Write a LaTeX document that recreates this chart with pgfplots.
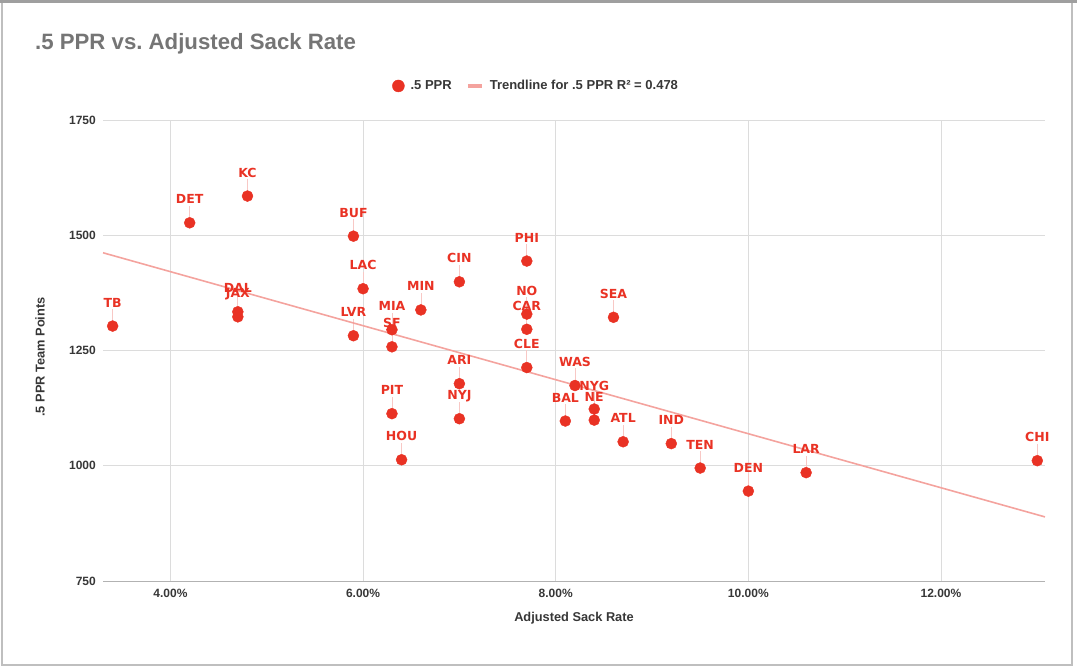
\documentclass[border=0pt]{standalone}
\usepackage{fontspec}
\setmainfont{Liberation Sans}
\newfontfamily\labfont{DejaVu Sans}
\usepackage{pgfplots}
\pgfplotsset{compat=1.18}
\usepackage{pgfplotstable}

\definecolor{dotred}{RGB}{233,50,36}
\definecolor{trendpink}{RGB}{244,163,158}
\definecolor{gridgray}{RGB}{220,220,220}
\definecolor{titlegray}{RGB}{117,117,117}
\definecolor{textgray}{RGB}{55,55,55}

% adjusted sack rate (%), .5 PPR team points
\pgfplotstableread{
x     y     team
3.4   1303  TB
4.2   1527  DET
4.8   1585  KC
4.7   1334  DAL
4.7   1323  JAX
5.9   1498  BUF
6.0   1384  LAC
5.9   1282  LVR
6.3   1295  MIA
6.3   1258  SF
6.6   1338  MIN
7.0   1399  CIN
7.7   1444  PHI
7.7   1329  NO
7.7   1296  CAR
8.6   1322  SEA
7.7   1213  CLE
7.0   1178  ARI
7.0   1102  NYJ
6.3   1113  PIT
6.4   1013  HOU
8.2   1174  WAS
8.4   1123  NYG
8.1   1097  BAL
8.4   1099  NE
8.7   1052  ATL
9.2   1048  IND
9.5   995   TEN
10.0  945   DEN
10.6  985   LAR
13.0  1011  CHI
}\sacks

\begin{document}
\begin{tikzpicture}[x=1pt,y=1pt]
\useasboundingbox (0,0) rectangle (1077,666);
\draw[gray!50, line width=1.2pt] (2,1) rectangle (1072,664);
\draw[gray!75, line width=3pt] (0,664.5) -- (1077,664.5);
\node[anchor=west, inner sep=0pt, text=titlegray, font=\fontsize{22.2}{25}\selectfont\bfseries] at (35,622) {.5 PPR vs.\ Adjusted Sack Rate};

\begin{axis}[
  at={(103pt,85pt)}, anchor=south west,
  scale only axis, width=942pt, height=461pt,
  xmin=3.3, xmax=13.08, ymin=750, ymax=1750,
  xtick={4,6,8,10,12},
  xticklabels={4.00\%,6.00\%,8.00\%,10.00\%,12.00\%},
  ytick={750,1000,1250,1500,1750},
  /pgf/number format/1000 sep={},
  /pgf/number format/assume math mode=true,
  grid=major,
  major grid style={gridgray, line width=0.8pt},
  axis line style={draw=none},
  major tick length=0pt,
  tick label style={font=\fontsize{12}{14}\selectfont\bfseries, text=textgray},
  yticklabel style={inner sep=0pt, xshift=-7pt},
  xticklabel style={inner sep=0pt, yshift=-8pt},
  xlabel={Adjusted Sack Rate},
  ylabel={.5 PPR Team Points},
  label style={font=\fontsize{12.8}{15}\selectfont\bfseries, text=textgray},
  xlabel style={at={(axis description cs:0.5,-0.0803)}, anchor=center},
  ylabel style={at={(axis description cs:-0.0669,0.486)}, anchor=center},
  legend style={at={(axis description cs:0.3068,1.0738)}, anchor=west, draw=none,
    fill=none, inner sep=0pt, legend columns=2,
    font=\fontsize{13}{15}\selectfont\bfseries, text=textgray,
    /tikz/every odd column/.append style={column sep=4pt},
    /tikz/every even column/.append style={column sep=12pt}},
  clip=false,
]
\draw[gray!60, line width=0.9pt] (axis cs:3.3,750) -- (axis cs:13.08,750);

\addplot[only marks, mark=*, mark size=5.5pt, color=dotred,
  mark options={fill=dotred, draw=none},
  error bars/y dir=plus, error bars/y fixed=37,
  error bars/error mark=none,
  error bars/error bar style={trendpink!60, line width=0.7pt},
  nodes near coords, point meta=explicit symbolic,
  nodes near coords style={anchor=base, yshift=19pt, inner sep=0pt,
    font=\labfont\bfseries\fontsize{12.5}{14}\selectfont, text=dotred},
  legend image code/.code={\fill[dotred] (6pt,0pt) circle (6pt);}
] table[x=x, y=y, meta=team] {\sacks};
\addlegendentry{.5 PPR}

\addplot[trendpink, line width=1.6pt,
  legend image code/.code={\draw[trendpink, line width=4pt] (0pt,0pt) -- (14pt,0pt);}
] coordinates {(3.3,1462) (13.08,889)};
\addlegendentry{Trendline for .5 PPR R² = 0.478}
\end{axis}
\end{tikzpicture}
\end{document}
